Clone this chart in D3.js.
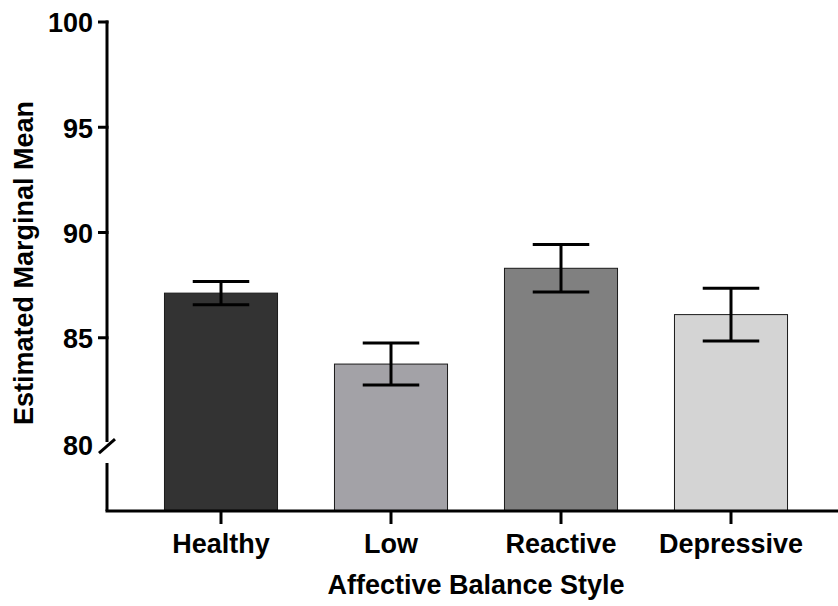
<!DOCTYPE html>
<html>
<head>
<meta charset="utf-8">
<script src="https://cdn.jsdelivr.net/npm/d3@7"></script>
<style>
  html, body { margin: 0; padding: 0; background: #fff; }
  svg { display: block; }
  text { font-family: "Liberation Sans", Arial, sans-serif; font-weight: bold; fill: #000; }
</style>
</head>
<body>
<svg id="chart" width="838" height="606"></svg>
<script>
// Estimated marginal means by affective balance style, with error bars
const categories = ["Healthy", "Low", "Reactive", "Depressive"];
const means      = [87.12, 83.75, 88.30, 86.10];
const errors     = [0.55, 1.00, 1.13, 1.25];
const barColors  = ["#333333", "#a3a2a7", "#808080", "#d4d4d4"];
const yTicks     = [80, 85, 90, 95, 100];
const yTitle = "Estimated Marginal Mean";
const xTitle = "Affective Balance Style";

const svg = d3.select("#chart");
const axisX = 107, baseY = 511, topY = 22;
const yBreakValue = 80;   // axis is broken just below this value
const yFloor = 76.77;     // value at the baseline

const y = d3.scaleLinear().domain([yFloor, 100]).range([baseY, topY]);
const x = d3.scaleBand().domain(categories).range([136, 816])
  .paddingInner(0.335).paddingOuter(0.1675);

const lw = 3;

// Bars
svg.append("g").selectAll("rect")
  .data(categories)
  .join("rect")
  .attr("x", d => x(d))
  .attr("y", (d, i) => y(means[i]))
  .attr("width", x.bandwidth())
  .attr("height", (d, i) => baseY - y(means[i]))
  .attr("fill", (d, i) => barColors[i])
  .attr("stroke", "#1a1a1a")
  .attr("stroke-width", 1);

// Error bars
const capHalf = x.bandwidth() / 4;
const eb = svg.append("g").attr("stroke", "#000").attr("stroke-width", lw);
categories.forEach((c, i) => {
  const cx = x(c) + x.bandwidth() / 2;
  const hi = y(means[i] + errors[i]), lo = y(means[i] - errors[i]);
  eb.append("line").attr("x1", cx).attr("x2", cx).attr("y1", hi).attr("y2", lo);
  eb.append("line").attr("x1", cx - capHalf).attr("x2", cx + capHalf).attr("y1", hi).attr("y2", hi);
  eb.append("line").attr("x1", cx - capHalf).attr("x2", cx + capHalf).attr("y1", lo).attr("y2", lo);
});

// Y axis with a break below 80
const yAxis = svg.append("g").attr("stroke", "#000").attr("stroke-width", lw).attr("fill", "none");
yAxis.append("line").attr("x1", axisX).attr("x2", axisX)
  .attr("y1", y(100) - lw / 2).attr("y2", y(yBreakValue) - 1);
yAxis.append("line").attr("x1", axisX).attr("x2", axisX)
  .attr("y1", y(yBreakValue) + 20).attr("y2", baseY);
yAxis.append("line")
  .attr("x1", axisX - 8).attr("y1", y(yBreakValue) + 10)
  .attr("x2", axisX + 8).attr("y2", y(yBreakValue) - 4);
yTicks.filter(t => t !== yBreakValue).forEach(t => {
  yAxis.append("line").attr("x1", axisX - 9).attr("x2", axisX + lw / 2)
    .attr("y1", y(t)).attr("y2", y(t));
});
svg.append("g").selectAll("text")
  .data(yTicks)
  .join("text")
  .attr("x", 93)
  .attr("y", d => y(d) + (d === yBreakValue ? 3 : 1))
  .attr("dy", "0.35em")
  .attr("text-anchor", "end")
  .attr("font-size", 27)
  .text(d => d);

// X axis
const xAxis = svg.append("g").attr("stroke", "#000").attr("stroke-width", lw);
xAxis.append("line").attr("x1", axisX - lw / 2).attr("x2", 838).attr("y1", baseY).attr("y2", baseY);
categories.forEach(c => {
  const cx = x(c) + x.bandwidth() / 2;
  xAxis.append("line").attr("x1", cx).attr("x2", cx).attr("y1", baseY).attr("y2", baseY + 13);
});
svg.append("g").selectAll("text")
  .data(categories)
  .join("text")
  .attr("x", d => x(d) + x.bandwidth() / 2)
  .attr("y", 553)
  .attr("text-anchor", "middle")
  .attr("font-size", 27)
  .text(d => d);

// Axis titles
svg.append("text")
  .attr("x", (x(categories[0]) + x(categories[3]) + x.bandwidth()) / 2)
  .attr("y", 594)
  .attr("text-anchor", "middle")
  .attr("font-size", 27)
  .text(xTitle);
svg.append("text")
  .attr("transform", "translate(33,263) rotate(-90)")
  .attr("text-anchor", "middle")
  .attr("font-size", 27)
  .text(yTitle);
</script>
</body>
</html>
